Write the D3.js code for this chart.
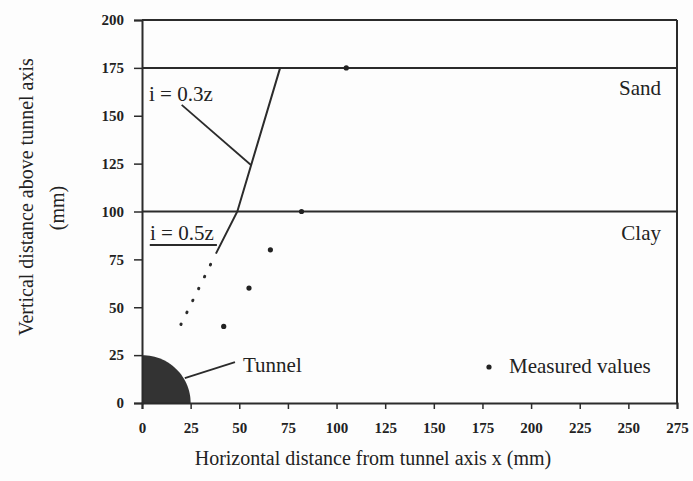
<!DOCTYPE html>
<html>
<head>
<meta charset="utf-8">
<script src="https://cdn.jsdelivr.net/npm/d3@7"></script>
<style>
  html, body { margin: 0; padding: 0; background: #fdfdfd; }
  svg { display: block; font-family: "Liberation Serif", "Times New Roman", serif; }
</style>
</head>
<body>
<svg id="chart" width="693" height="481"></svg>
<script>
// Axis ticks
const xTicks = [0, 25, 50, 75, 100, 125, 150, 175, 200, 225, 250, 275];
const yTicks = [0, 25, 50, 75, 100, 125, 150, 175, 200];

// Soil layer boundaries (mm above tunnel axis)
const layerTops = [100, 175];
const layerNames = ["Clay", "Sand"];

// Measured trough width points (x, z)
const measuredX = [42, 55, 66, 82, 105];
const measuredZ = [40, 60, 80, 100, 175];

// Predicted trough width: i = 0.5z in clay (dotted below), i = 0.3z in sand
const predictedX = [38, 49, 71];
const predictedZ = [78, 100, 175];
const extrapX = [20, 38];
const extrapZ = [41, 78];

// Tunnel radius (mm)
const tunnelRadius = 25;

const svg = d3.select("#chart");
const ink = "#2b2b2b";

const x = d3.scaleLinear().domain([0, 275]).range([142, 677]);
const y = d3.scaleLinear().domain([0, 200]).range([403, 20]);

// Tunnel quarter section
const arcPts = d3.range(0, 91, 3).map(a => [tunnelRadius * Math.cos(a * Math.PI / 180), tunnelRadius * Math.sin(a * Math.PI / 180)]);
svg.append("path")
  .attr("d", "M" + x(0) + "," + y(0) + "L" + arcPts.map(p => x(p[0]) + "," + y(p[1])).join("L") + "Z")
  .attr("fill", "#333");

// Axes
const xAxis = svg.append("g").attr("transform", `translate(0,${y(0)})`)
  .call(d3.axisBottom(x).tickValues(xTicks).tickSize(6).tickPadding(13));
const yAxis = svg.append("g").attr("transform", `translate(${x(0)},0)`)
  .call(d3.axisLeft(y).tickValues(yTicks).tickSize(8).tickPadding(10));
[xAxis, yAxis].forEach(g => {
  g.select(".domain").attr("stroke", ink).attr("stroke-width", 2);
  g.selectAll(".tick line").attr("stroke", ink).attr("stroke-width", 1.5);
  g.selectAll(".tick text").attr("fill", "#222").attr("font-size", 15)
    .attr("font-family", "Liberation Serif, serif").attr("font-weight", "bold");
});

// Frame: top and right edges
svg.append("line").attr("x1", x(0)).attr("x2", x(275)).attr("y1", y(200)).attr("y2", y(200))
  .attr("stroke", ink).attr("stroke-width", 2);
svg.append("line").attr("x1", x(275)).attr("x2", x(275)).attr("y1", y(200)).attr("y2", y(0))
  .attr("stroke", ink).attr("stroke-width", 2);

// Layer boundaries
svg.selectAll("line.layer").data(layerTops).join("line").attr("class", "layer")
  .attr("x1", x(0)).attr("x2", x(275)).attr("y1", d => y(d)).attr("y2", d => y(d))
  .attr("stroke", ink).attr("stroke-width", 2);

// Layer names
svg.selectAll("text.layer").data(layerNames).join("text").attr("class", "layer")
  .attr("x", 661).attr("y", (d, i) => [240, 95][i])
  .attr("text-anchor", "end").attr("font-size", 21).attr("fill", "#222").text(d => d);

const line = d3.line().x(d => x(d[0])).y(d => y(d[1]));

// Predicted line
svg.append("path").datum(predictedX.map((v, i) => [v, predictedZ[i]]))
  .attr("d", line).attr("fill", "none").attr("stroke", ink).attr("stroke-width", 2);
svg.append("path").datum(extrapX.map((v, i) => [v, extrapZ[i]]))
  .attr("d", line).attr("fill", "none").attr("stroke", ink).attr("stroke-width", 3)
  .attr("stroke-linecap", "round").attr("stroke-dasharray", "0.5,12.8");

// Measured points
svg.selectAll("circle.meas").data(measuredX.map((v, i) => [v, measuredZ[i]])).join("circle")
  .attr("class", "meas").attr("cx", d => x(d[0])).attr("cy", d => y(d[1])).attr("r", 2.6).attr("fill", "#222");

// Annotations
svg.append("text").attr("x", 149).attr("y", 101).attr("font-size", 21).attr("fill", "#222").text("i = 0.3z");
svg.append("path").datum([[20.4, 155.7], [56, 124.3]]).attr("d", line)
  .attr("stroke", ink).attr("stroke-width", 1.8).attr("fill", "none");

svg.append("text").attr("x", 150).attr("y", 240).attr("font-size", 21).attr("fill", "#222").text("i = 0.5z");
svg.append("path").datum([[4, 82.5], [38.5, 82.5]]).attr("d", line)
  .attr("stroke", ink).attr("stroke-width", 1.8).attr("fill", "none");

svg.append("text").attr("x", 243).attr("y", 372).attr("font-size", 21).attr("fill", "#222").text("Tunnel");
svg.append("path").datum([[47.8, 21.4], [22, 13]]).attr("d", line)
  .attr("stroke", ink).attr("stroke-width", 1.8).attr("fill", "none");

// Legend
svg.append("circle").attr("cx", 489).attr("cy", 367).attr("r", 2.6).attr("fill", "#222");
svg.append("text").attr("x", 509).attr("y", 373).attr("font-size", 21).attr("fill", "#222").text("Measured values");

// Axis titles
svg.append("text").attr("x", 373).attr("y", 465).attr("text-anchor", "middle")
  .attr("font-size", 20).attr("fill", "#222").text("Horizontal distance from tunnel axis x (mm)");
svg.append("text").attr("transform", "translate(33,197) rotate(-90)").attr("text-anchor", "middle")
  .attr("font-size", 20).attr("fill", "#222").text("Vertical distance above tunnel axis");
svg.append("text").attr("transform", "translate(64,208) rotate(-90)").attr("text-anchor", "middle")
  .attr("font-size", 20).attr("fill", "#222").text("(mm)");
</script>
</body>
</html>
